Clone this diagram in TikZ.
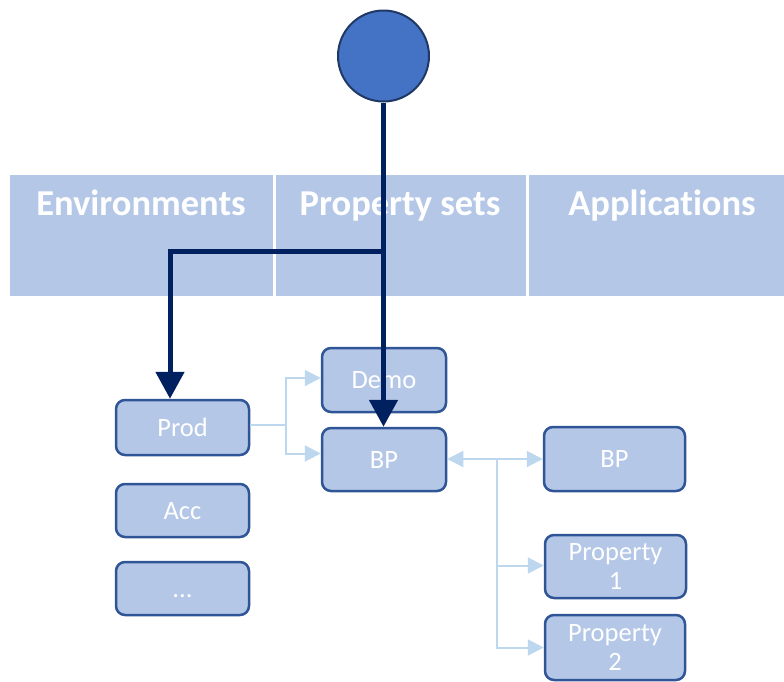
\documentclass[tikz,border=0pt]{standalone}
\usepackage{fontspec}
\setmainfont[Ligatures=NoCommon,RawFeature=-dlig]{Carlito}
\usetikzlibrary{arrows.meta}
\definecolor{paleblue}{HTML}{B4C7E7}
\definecolor{boxedge}{HTML}{2F5597}
\definecolor{ringedge}{HTML}{203864}
\definecolor{accentblue}{HTML}{4472C4}
\definecolor{navy}{HTML}{002060}
\definecolor{skyline}{HTML}{BDD7EE}
\tikzset{
  header/.style={fill=paleblue, draw=none, inner sep=0pt},
  headtext/.style={text=white, font=\fontsize{36.5}{40}\selectfont\bfseries, inner sep=0pt, anchor=base},
  item/.style={rounded corners=9pt, fill=paleblue, draw=boxedge, line width=2.5pt,
    text=white, font=\fontsize{26.5}{28.5}\selectfont, align=center, inner sep=0pt},
  oneline/.style={text height=17pt, text depth=0pt},
  flow/.style={draw=navy, line width=5pt, -{Triangle[width=28pt,length=27pt]}},
  feed/.style={draw=skyline, line width=2pt, -{Triangle[width=16pt,length=16pt]}},
  feedboth/.style={draw=skyline, line width=2pt, {Triangle[width=16pt,length=16pt]}-{Triangle[width=16pt,length=16pt]}},
}
\begin{document}
\begin{tikzpicture}[x=1pt,y=-1pt]
\useasboundingbox (0,0) rectangle (784,681);

% column headers
\node[header, minimum width=263pt, minimum height=121pt] (hEnv) at (141.5,235.5) {};
\node[header, minimum width=250pt, minimum height=121pt] (hProp) at (401,235.5) {};
\node[header, minimum width=255pt, minimum height=121pt] (hApp) at (656.5,235.5) {};
\node[headtext] (tEnv) at (141,215) {Environments};
\node[headtext] (tProp) at (400,215) {Property sets};
\node[headtext] (tApp) at (662,215) {Applications};

% start point
\node[circle, fill=accentblue, draw=ringedge, line width=2pt, minimum size=91pt, inner sep=0pt] (start) at (383.5,56) {};

% environments
\node[item, oneline, minimum width=133pt, minimum height=55pt] (prod) at (182.5,427.5) {Prod};
\node[item, oneline, minimum width=133pt, minimum height=53pt] (acc) at (182.5,510.5) {Acc};
\node[item, oneline, minimum width=133pt, minimum height=53pt] (more) at (182.5,588.5) {...};

% property sets
\node[item, oneline, minimum width=124pt, minimum height=64pt] (demo) at (384,380) {Demo};
\node[item, oneline, minimum width=124pt, minimum height=63pt] (bpset) at (384,459.5) {BP};

% applications
\node[item, oneline, minimum width=141pt, minimum height=64pt] (bpapp) at (614.5,459) {BP};
\node[item, minimum width=141pt, minimum height=63pt] (prop1) at (615.5,566.5) {Property\\1};
\node[item, minimum width=140pt, minimum height=65pt] (prop2) at (615,647.5) {Property\\2};

% light links
\coordinate (prodsplit) at (286,425);
\draw[draw=skyline, line width=2pt] (prod.east |- prodsplit) -- (prodsplit);
\draw[feed] (prodsplit) |- ([yshift=2pt]demo.west);
\draw[feed] (prodsplit) |- ([yshift=6pt]bpset.west);
\draw[feedboth] (bpset.east |- bpapp.west) -- (bpapp.west);
\coordinate (bus) at (497,460);
\draw[feed] (bus) |- ([yshift=1pt]prop1.west);
\draw[feed] (bus) |- (prop2.west);

% main flow
\coordinate (fork) at (383.5,251);
\draw[flow] (start.south) -- (start.south |- bpset.north);
\draw[flow] (fork) -| ([xshift=-12.5pt]prod.north);
\end{tikzpicture}
\end{document}
